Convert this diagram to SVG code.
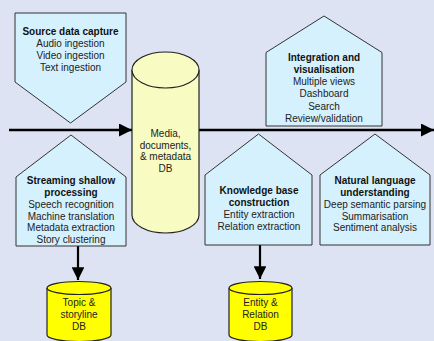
<svg xmlns="http://www.w3.org/2000/svg" width="434" height="341" viewBox="0 0 434 341">
  <defs>
    <style>
      .box { fill: #d5f1fd; stroke: #333; stroke-width: 1; }
      .bigdb { fill: #f8fbc2; stroke: #222; stroke-width: 1.2; }
      .smalldb { fill: #ffff00; stroke: #222; stroke-width: 1.2; }
      text { font-family: "Liberation Sans", Arial, sans-serif; font-size: 10px; fill: #222; text-anchor: middle; }
      .t { font-weight: bold; fill: #111; }
      .flow { stroke: #000; stroke-width: 2.6; fill: none; }
      .drop { stroke: #000; stroke-width: 2.2; fill: none; }
    </style>
    <marker id="head" viewBox="0 0 10 10" refX="10" refY="5" markerWidth="5" markerHeight="5" markerUnits="strokeWidth" orient="auto">
      <path d="M0,0 L10,5 L0,10 Z" fill="#000"/>
    </marker>
    <marker id="headDrop" viewBox="0 0 10 10" refX="10" refY="5" markerWidth="6.5" markerHeight="5.8" markerUnits="strokeWidth" orient="auto">
      <path d="M0,0 L10,5 L0,10 Z" fill="#000"/>
    </marker>
  </defs>

  <rect width="434" height="341" fill="#dde3f3"/>

  <!-- connectors -->
  <g id="connectors">
    <line class="flow" x1="9" y1="130" x2="132" y2="130" marker-end="url(#head)"/>
    <line class="flow" x1="199" y1="130" x2="434" y2="130" marker-end="url(#head)"/>
    <line class="drop" x1="78" y1="246" x2="78" y2="280" marker-end="url(#headDrop)"/>
    <line class="drop" x1="260" y1="245" x2="260" y2="279" marker-end="url(#headDrop)"/>
  </g>

  <!-- Source data capture -->
  <g id="source-capture">
    <path class="box" d="M15,13 H126 V82 L70.5,123 L15,82 Z"/>
    <text class="t" x="70.5" y="35">Source data capture</text>
    <text x="70.5" y="47">Audio ingestion</text>
    <text x="70.5" y="59">Video ingestion</text>
    <text x="70.5" y="71">Text ingestion</text>
  </g>

  <!-- Streaming shallow processing -->
  <g id="streaming">
    <path class="box" d="M16,177 L71,135 L126,177 V246 H16 Z"/>
    <text class="t" x="71" y="184">Streaming shallow</text>
    <text class="t" x="71" y="196">processing</text>
    <text x="71" y="207.5">Speech recognition</text>
    <text x="71" y="219.5">Machine translation</text>
    <text x="71" y="231">Metadata extraction</text>
    <text x="71" y="243">Story clustering</text>
  </g>

  <!-- Media, documents & metadata DB -->
  <g id="media-db">
    <path class="bigdb" d="M132,70 V215 A33.5,18 0 0 0 199,215 V70"/>
    <ellipse class="bigdb" cx="165.5" cy="70" rx="33.5" ry="18"/>
    <text x="165.5" y="136.5">Media,</text>
    <text x="165.5" y="148.5">documents,</text>
    <text x="165.5" y="160">&amp; metadata</text>
    <text x="165.5" y="172">DB</text>
  </g>

  <!-- Integration and visualisation -->
  <g id="integration">
    <path class="box" d="M266,52.5 L324,16 L382,52.5 V126 H266 Z"/>
    <text class="t" x="324" y="61">Integration and</text>
    <text class="t" x="324" y="73">visualisation</text>
    <text x="324" y="85">Multiple views</text>
    <text x="324" y="97">Dashboard</text>
    <text x="324" y="109.5">Search</text>
    <text x="324" y="121.5">Review/validation</text>
  </g>

  <!-- Knowledge base construction -->
  <g id="kb-construction">
    <path class="box" d="M205,175 L258.5,134 L312,175 V245 H205 Z"/>
    <text class="t" x="259" y="194">Knowledge base</text>
    <text class="t" x="259" y="206">construction</text>
    <text x="259" y="218">Entity extraction</text>
    <text x="259" y="230">Relation extraction</text>
  </g>

  <!-- Natural language understanding -->
  <g id="nlu">
    <path class="box" d="M320,175 L375,134 L430,175 V245 H320 Z"/>
    <text class="t" x="375" y="184">Natural language</text>
    <text class="t" x="375" y="196">understanding</text>
    <text x="375" y="208">Deep semantic parsing</text>
    <text x="375" y="219.5">Summarisation</text>
    <text x="375" y="231">Sentiment analysis</text>
  </g>

  <!-- Topic & storyline DB -->
  <g id="topic-db">
    <path class="smalldb" d="M47,288 V335 A32,6.5 0 0 0 111,335 V288"/>
    <ellipse class="smalldb" cx="79" cy="288" rx="32" ry="6.5"/>
    <text x="79" y="306">Topic &amp;</text>
    <text x="79" y="318">storyline</text>
    <text x="79" y="330">DB</text>
  </g>

  <!-- Entity & Relation DB -->
  <g id="entity-db">
    <path class="smalldb" d="M229,288 V335 A31.5,6.5 0 0 0 292,335 V288"/>
    <ellipse class="smalldb" cx="260.5" cy="288" rx="31.5" ry="6.5"/>
    <text x="260.5" y="306">Entity &amp;</text>
    <text x="260.5" y="318">Relation</text>
    <text x="260.5" y="330">DB</text>
  </g>
</svg>
